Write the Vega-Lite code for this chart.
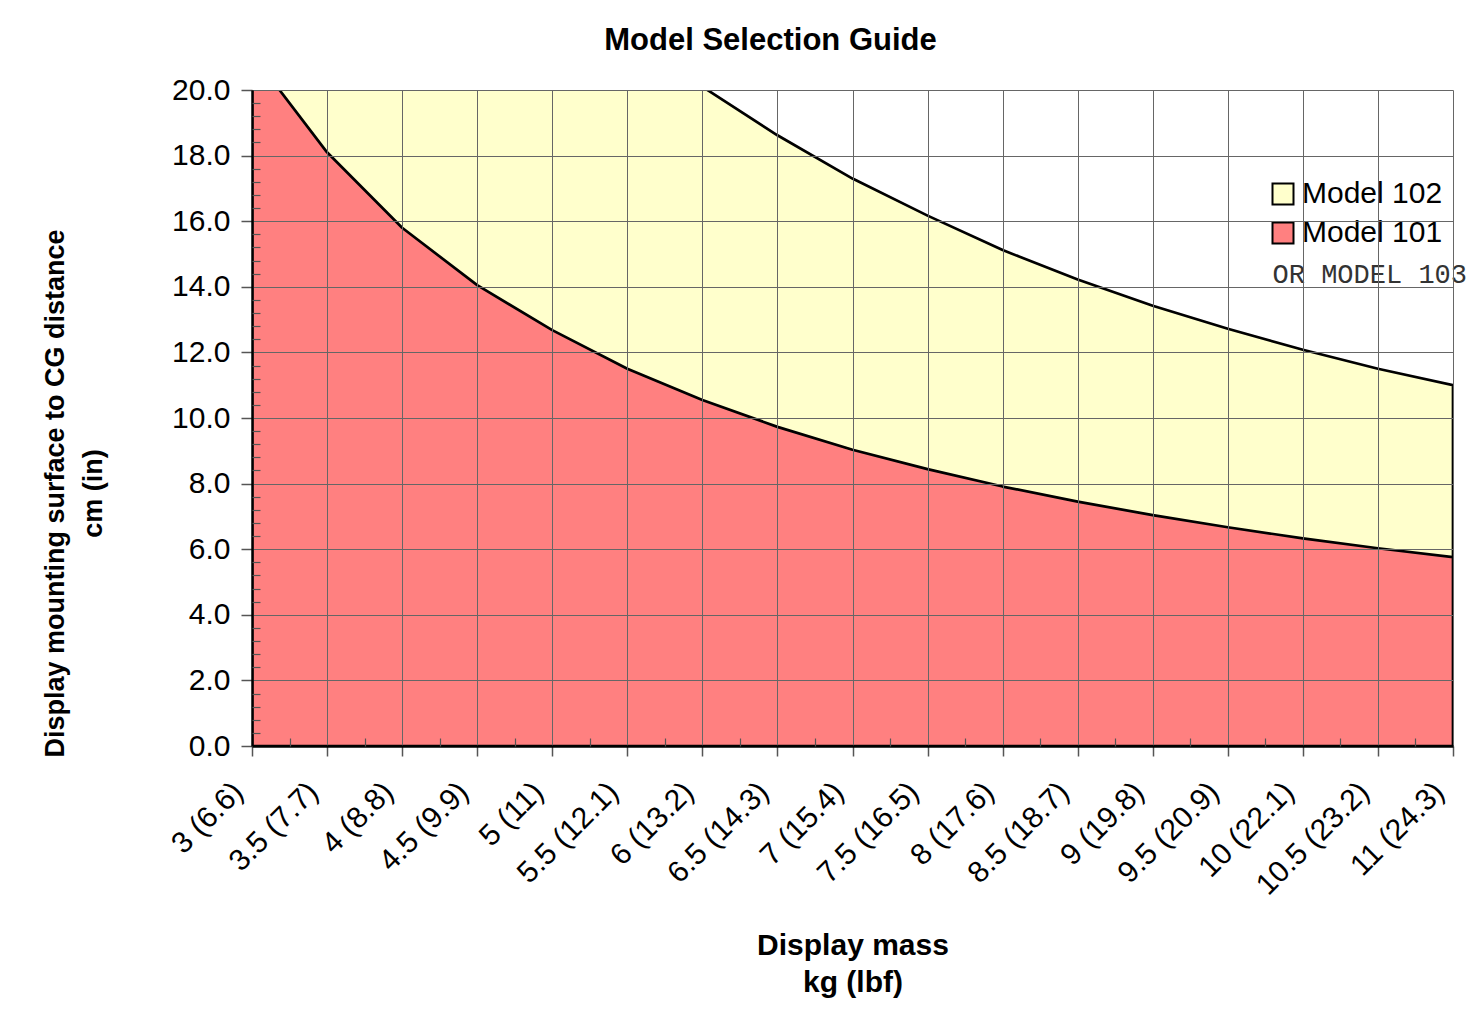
{
  "$schema": "https://vega.github.io/schema/vega-lite/v6.json",
  "width": 1201,
  "height": 656,
  "autosize": {"type": "none"},
  "padding": {"left": 252, "top": 90, "right": 17, "bottom": 269},
  "background": "white",
  "title": {
    "text": "Model Selection Guide",
    "font": "Liberation Sans",
    "fontSize": 31,
    "fontWeight": "bold",
    "color": "black",
    "anchor": "middle",
    "frame": "group",
    "dx": -82,
    "offset": 18
  },
  "data": {
    "values": [
      {"kg": 3, "model": "Model 101", "cm": 21.1},
      {"kg": 3.5, "model": "Model 101", "cm": 18.1},
      {"kg": 4, "model": "Model 101", "cm": 15.8},
      {"kg": 4.5, "model": "Model 101", "cm": 14.05},
      {"kg": 5, "model": "Model 101", "cm": 12.68},
      {"kg": 5.5, "model": "Model 101", "cm": 11.5},
      {"kg": 6, "model": "Model 101", "cm": 10.55},
      {"kg": 6.5, "model": "Model 101", "cm": 9.73},
      {"kg": 7, "model": "Model 101", "cm": 9.03},
      {"kg": 7.5, "model": "Model 101", "cm": 8.44},
      {"kg": 8, "model": "Model 101", "cm": 7.91},
      {"kg": 8.5, "model": "Model 101", "cm": 7.45},
      {"kg": 9, "model": "Model 101", "cm": 7.04},
      {"kg": 9.5, "model": "Model 101", "cm": 6.67},
      {"kg": 10, "model": "Model 101", "cm": 6.33},
      {"kg": 10.5, "model": "Model 101", "cm": 6.03},
      {"kg": 11, "model": "Model 101", "cm": 5.76},
      {"kg": 3, "model": "Model 102", "cm": 40.3},
      {"kg": 3.5, "model": "Model 102", "cm": 34.6},
      {"kg": 4, "model": "Model 102", "cm": 30.2},
      {"kg": 4.5, "model": "Model 102", "cm": 26.9},
      {"kg": 5, "model": "Model 102", "cm": 24.2},
      {"kg": 5.5, "model": "Model 102", "cm": 22.0},
      {"kg": 6, "model": "Model 102", "cm": 20.1},
      {"kg": 6.5, "model": "Model 102", "cm": 18.62},
      {"kg": 7, "model": "Model 102", "cm": 17.3},
      {"kg": 7.5, "model": "Model 102", "cm": 16.17},
      {"kg": 8, "model": "Model 102", "cm": 15.12},
      {"kg": 8.5, "model": "Model 102", "cm": 14.22},
      {"kg": 9, "model": "Model 102", "cm": 13.42},
      {"kg": 9.5, "model": "Model 102", "cm": 12.72},
      {"kg": 10, "model": "Model 102", "cm": 12.08},
      {"kg": 10.5, "model": "Model 102", "cm": 11.5},
      {"kg": 11, "model": "Model 102", "cm": 11.0}
    ]
  },
  "layer": [
    {
      "transform": [{"filter": "datum.model === 'Model 102'"}],
      "mark": {"type": "area", "clip": true, "opacity": 1, "stroke": "black", "strokeWidth": 2.7, "strokeJoin": "round"},
      "encoding": {
        "x": {
          "field": "kg", "type": "quantitative",
          "scale": {"domain": [3, 11], "nice": false, "zero": false},
          "axis": {
            "values": [3, 3.5, 4, 4.5, 5, 5.5, 6, 6.5, 7, 7.5, 8, 8.5, 9, 9.5, 10, 10.5, 11],
            "labelExpr": "['3 (6.6)','3.5 (7.7)','4 (8.8)','4.5 (9.9)','5 (11)','5.5 (12.1)','6 (13.2)','6.5 (14.3)','7 (15.4)','7.5 (16.5)','8 (17.6)','8.5 (18.7)','9 (19.8)','9.5 (20.9)','10 (22.1)','10.5 (23.2)','11 (24.3)'][round((datum.value-3)*2)]",
            "orient": "bottom",
            "zindex": 1,
            "labelAngle": -45,
            "labelAlign": "right",
            "labelBaseline": "middle",
            "labelFont": "Liberation Sans",
            "labelFontSize": 30,
            "labelColor": "black",
            "labelPadding": 31,
            "labelOffset": -14,
            "labelFlush": false,
            "labelOverlap": false,
            "tickSize": 10,
            "tickColor": "#555555",
            "tickWidth": 1.5,
            "domainColor": "black",
            "domainWidth": 2.5,
            "grid": true,
            "gridColor": "#666666",
            "gridWidth": 1,
            "title": ["Display mass", "kg (lbf)"],
            "titleFont": "Liberation Sans",
            "titleFontSize": 30,
            "titleFontWeight": "bold",
            "titleColor": "black",
            "titleLineHeight": 37,
            "titleBaseline": "alphabetic",
            "titleX": 600.5,
            "titleY": 208
          }
        },
        "y": {
          "field": "cm", "type": "quantitative", "stack": null,
          "scale": {"domain": [0, 20], "nice": false, "zero": true},
          "axis": {
            "values": [0, 2, 4, 6, 8, 10, 12, 14, 16, 18, 20],
            "format": ".1f",
            "orient": "left",
            "zindex": 1,
            "labelFont": "Liberation Sans",
            "labelFontSize": 30,
            "labelColor": "black",
            "labelPadding": 11,
            "labelFlush": false,
            "labelOverlap": false,
            "tickSize": 11,
            "tickColor": "#555555",
            "tickWidth": 1.5,
            "domainColor": "black",
            "domainWidth": 2.5,
            "grid": true,
            "gridColor": "#666666",
            "gridWidth": 1,
            "title": ["Display mounting surface to CG distance", "cm (in)"],
            "titleFont": "Liberation Sans",
            "titleFontSize": 27,
            "titleFontWeight": "bold",
            "titleColor": "black",
            "titleAngle": -90,
            "titleLineHeight": 38,
            "titleBaseline": "alphabetic",
            "titleX": -189,
            "titleY": 403
          }
        },
        "color": {
          "field": "model", "type": "nominal",
          "scale": {"domain": ["Model 102", "Model 101"], "range": ["#FFFFCC", "#FF8080"]},
          "legend": {
            "orient": "none",
            "legendX": 1008,
            "legendY": 81,
            "title": null,
            "fillColor": "white",
            "padding": 8,
            "symbolType": "square",
            "symbolSize": 441,
            "symbolStrokeColor": "black",
            "symbolStrokeWidth": 2,
            "symbolOpacity": 1,
            "labelFont": "Liberation Sans",
            "labelFontSize": 30,
            "labelColor": "black",
            "labelOffset": 4,
            "rowPadding": 9
          }
        }
      }
    },
    {
      "transform": [{"filter": "datum.model === 'Model 101'"}],
      "mark": {"type": "area", "clip": true, "opacity": 1, "stroke": "black", "strokeWidth": 2.7, "strokeJoin": "round"},
      "encoding": {
        "x": {"field": "kg", "type": "quantitative", "scale": {"domain": [3, 11], "nice": false, "zero": false}, "axis": null},
        "y": {"field": "cm", "type": "quantitative", "stack": null, "scale": {"domain": [0, 20], "nice": false, "zero": true}, "axis": null},
        "color": {"field": "model", "type": "nominal"}
      }
    },
    {
      "mark": {"type": "point", "opacity": 0, "clip": true},
      "encoding": {
        "x": {
          "field": "kg", "type": "quantitative",
          "scale": {"domain": [3, 11], "nice": false, "zero": false},
          "axis": {
            "orient": "bottom",
            "zindex": 2,
            "values": [3.25, 3.75, 4.25, 4.75, 5.25, 5.75, 6.25, 6.75, 7.25, 7.75, 8.25, 8.75, 9.25, 9.75, 10.25, 10.75],
            "labels": false, "domain": false, "grid": false,
            "tickSize": -8, "tickColor": "#555555", "tickWidth": 1.2,
            "title": null
          }
        },
        "y": {
          "field": "cm", "type": "quantitative",
          "scale": {"domain": [0, 20], "nice": false, "zero": true},
          "axis": {
            "orient": "left",
            "zindex": 2,
            "values": [0.4, 0.8, 1.2, 1.6, 2.4, 2.8, 3.2, 3.6, 4.4, 4.8, 5.2, 5.6, 6.4, 6.8, 7.2, 7.6, 8.4, 8.8, 9.2, 9.6, 10.4, 10.8, 11.2, 11.6, 12.4, 12.8, 13.2, 13.6, 14.4, 14.8, 15.2, 15.6, 16.4, 16.8, 17.2, 17.6, 18.4, 18.8, 19.2, 19.6],
            "labels": false, "domain": false, "grid": false,
            "tickSize": -8, "tickColor": "#555555", "tickWidth": 1.2,
            "title": null
          }
        }
      }
    },
    {
      "data": {"values": [{"note": "OR MODEL 103"}]},
      "mark": {"type": "text", "align": "right", "baseline": "alphabetic", "dx": 14, "font": "Liberation Mono", "fontSize": 27, "color": "#333333"},
      "encoding": {
        "x": {"datum": 11, "type": "quantitative", "scale": {"domain": [3, 11], "nice": false, "zero": false}, "axis": null},
        "y": {"datum": 14.12, "type": "quantitative", "scale": {"domain": [0, 20], "nice": false, "zero": true}, "axis": null},
        "text": {"field": "note", "type": "nominal"}
      }
    }
  ],
  "resolve": {"axis": {"x": "independent", "y": "independent"}},
  "config": {
    "font": "Liberation Sans",
    "view": {"stroke": null}
  }
}
